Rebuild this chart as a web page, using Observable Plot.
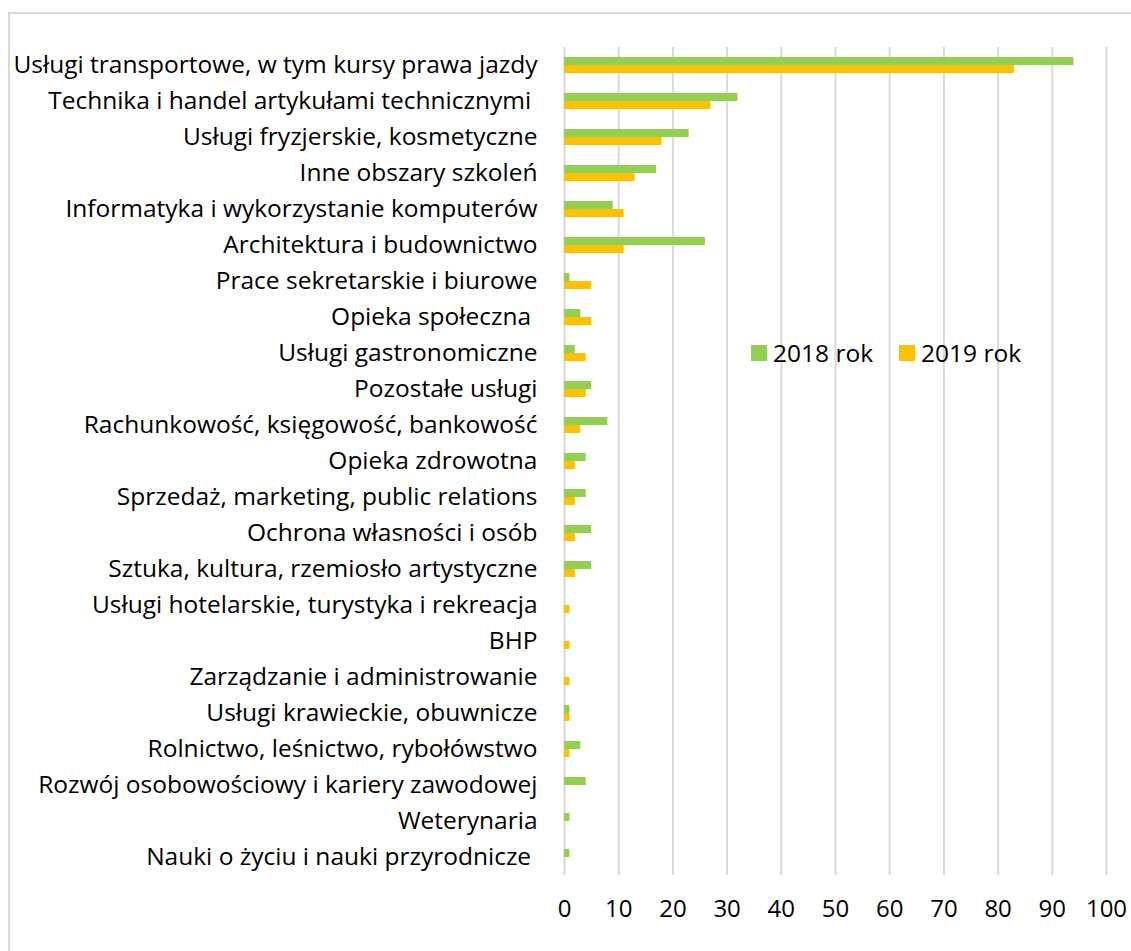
<!DOCTYPE html>
<html>
<head>
<meta charset="utf-8">
<script src="https://cdn.jsdelivr.net/npm/d3@7"></script>
<script src="https://cdn.jsdelivr.net/npm/@observablehq/plot@0.6"></script>
<style>
  html, body { margin: 0; padding: 0; background: #fff; }
  body { width: 1131px; height: 951px; position: relative; overflow: hidden; font-family: "Open Sans", sans-serif; }
  #frame { position: absolute; left: 8px; top: 12px; width: 1200px; height: 1000px; border: 2px solid #d9d9d9; box-sizing: border-box; }
  #chart { position: absolute; left: 0; top: 0; }
  #legend { position: absolute; left: 751px; top: 336px; display: flex; align-items: center; font-size: 24.5px; color: #000; }
  #legend .sw { width: 16px; height: 16px; display: inline-block; margin-right: 6px; }
  #legend .item { display: flex; align-items: center; margin-right: 26px; }
</style>
</head>
<body>
<div id="frame"></div>
<div id="chart"></div>
<div id="legend"></div>
<script>
const categories = [
  "Usługi transportowe, w tym kursy prawa jazdy",
  "Technika i handel artykułami technicznymi\u00a0",
  "Usługi fryzjerskie, kosmetyczne",
  "Inne obszary szkoleń",
  "Informatyka i wykorzystanie komputerów",
  "Architektura i budownictwo",
  "Prace sekretarskie i biurowe",
  "Opieka społeczna\u00a0",
  "Usługi gastronomiczne",
  "Pozostałe usługi",
  "Rachunkowość, księgowość, bankowość",
  "Opieka zdrowotna",
  "Sprzedaż, marketing, public relations",
  "Ochrona własności i osób",
  "Sztuka, kultura, rzemiosło artystyczne",
  "Usługi hotelarskie, turystyka i rekreacja",
  "BHP",
  "Zarządzanie i administrowanie",
  "Usługi krawieckie, obuwnicze",
  "Rolnictwo, leśnictwo, rybołówstwo",
  "Rozwój osobowościowy i kariery zawodowej",
  "Weterynaria",
  "Nauki o życiu i nauki przyrodnicze\u00a0"
];
const values2018 = [94, 32, 23, 17, 9, 26, 1, 3, 2, 5, 8, 4, 4, 5, 5, 0, 0, 0, 1, 3, 4, 1, 1];
const values2019 = [83, 27, 18, 13, 11, 11, 5, 5, 4, 4, 3, 2, 2, 2, 2, 1, 1, 1, 1, 1, 0, 0, 0];
const years = ["2018 rok", "2019 rok"];
const colors = ["#92d050", "#ffc000"];
const xTicks = [0, 10, 20, 30, 40, 50, 60, 70, 80, 90, 100];

const data = [];
categories.forEach((c, i) => {
  data.push({category: c, year: years[0], value: values2018[i]});
  data.push({category: c, year: years[1], value: values2019[i]});
});

const chart = Plot.plot({
  width: 1131,
  height: 951,
  marginLeft: 564,
  marginRight: 25,
  marginTop: 46,
  marginBottom: 76,
  style: {fontFamily: "'Open Sans', sans-serif", color: "#000", background: "transparent"},
  x: {domain: [0, 100]},
  fy: {domain: categories, padding: 0},
  y: {domain: years, paddingInner: 0, paddingOuter: 1.07, axis: null},
  color: {domain: years, range: colors},
  marks: [
    Plot.ruleX(xTicks, {stroke: "#d9d9d9", strokeWidth: 2}),
    Plot.barX(data, {x: "value", y: "year", fy: "category", fill: "year"}),
    Plot.axisX({ticks: xTicks, tickSize: 0, tickPadding: 24, fontSize: 24, label: null}),
    Plot.axisFy({anchor: "left", tickSize: 0, tickPadding: 27, fontSize: 24.5, label: null})
  ]
});
document.getElementById("chart").appendChild(chart);

const legend = document.getElementById("legend");
years.forEach((y, i) => {
  const item = document.createElement("span");
  item.className = "item";
  const sw = document.createElement("span");
  sw.className = "sw";
  sw.style.background = colors[i];
  item.appendChild(sw);
  item.appendChild(document.createTextNode(y));
  legend.appendChild(item);
});
</script>
</body>
</html>
